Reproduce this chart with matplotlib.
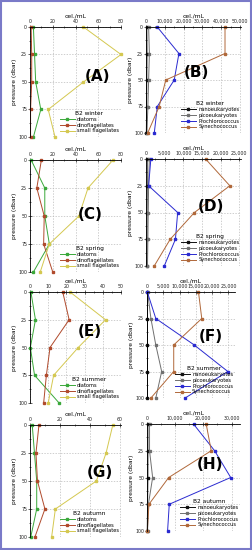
import matplotlib
matplotlib.use("Agg")
import matplotlib.pyplot as plt
from matplotlib.ticker import AutoMinorLocator, FuncFormatter
from matplotlib.patches import Rectangle

depth = [0, 25, 50, 75, 100]

# Left panels (microplankton, cel./mL)
A_diatoms = [3, 4, 5, 9.5, 3]
A_dino = [1, 1.5, 1.5, 0.5, 0.5]
A_small = [47, 80, 47, 16, 22]

C_diatoms = [1, 13, 13, 17, 3]
C_dino = [10, 6, 12.5, 12, 20]
C_small = [73, 51, 43, 17, 9]

E_diatoms = [0.5, 3, 0.2, 2.5, 16]
E_dino = [18, 21.5, 11, 9, 7.5]
E_small = [22, 41.5, 26.5, 13, 10]

G_diatoms = [1.5, 3, 4.5, 4.5, 0.5]
G_dino = [6, 4, 5, 10, 3.3]
G_small = [55.5, 51, 44.5, 17, 14.5]

# Right panels (picoplankton, cel./mL)
B_nano = [400, 500, 400, 300, 200]
B_pico = [1400, 1800, 1400, 1000, 500]
B_pro = [6000, 17500, 15000, 6000, 4400]
B_syn = [42000, 42000, 10500, 7000, 900]

D_nano = [300, 300, 250, 250, 200]
D_pico = [900, 700, 600, 500, 400]
D_pro = [1300, 700, 8500, 7900, 4900]
D_syn = [16000, 22500, 13000, 6500, 2200]

F_nano = [150, 150, 150, 150, 150]
F_pico = [200, 1200, 2700, 4500, 2700]
F_pro = [100, 2700, 14500, 24800, 11700]
F_syn = [15800, 16800, 8200, 8200, 1200]

H_nano = [300, 300, 300, 200, 100]
H_pico = [900, 900, 2000, 500, 200]
H_pro = [16500, 24000, 29700, 7900, 7300]
H_syn = [21000, 22800, 7700, 700, 100]

left_names = ["diatoms", "dinoflagellates", "small flagellates"]
right_names = ["nanoeukaryotes", "picoeukaryotes", "Prochlorococcus", "Synechococcus"]
left_colors = ["#3aa83a", "#b04a2c", "#d4c850"]
right_colors = ["#111111", "#707070", "#2a2ad0", "#b0683a"]
seasons = ["B2 winter", "B2 spring", "B2 summer", "B2 autumn"]

fig = plt.figure(figsize=(2.52, 5.5), dpi=100)

left_pos = [
    [30/252, 1-137/550, 91/252, 110/550],
    [30/252, 1-272/550, 91/252, 112/550],
    [30/252, 1-403/550, 91/252, 111/550],
    [30/252, 1-537/550, 91/252, 112/550],
]
right_pos = [
    [146/252, 1-133/550, 95/252, 106/550],
    [146/252, 1-266/550, 95/252, 107/550],
    [147/252, 1-398/550, 88/252, 106/550],
    [147/252, 1-531/550, 93/252, 107/550],
]

left_data = [(A_diatoms, A_dino, A_small), (C_diatoms, C_dino, C_small),
             (E_diatoms, E_dino, E_small), (G_diatoms, G_dino, G_small)]
right_data = [(B_nano, B_pico, B_pro, B_syn), (D_nano, D_pico, D_pro, D_syn),
              (F_nano, F_pico, F_pro, F_syn), (H_nano, H_pico, H_pro, H_syn)]

left_xlim = [(0, 80), (0, 80), (0, 50), (0, 61)]
left_ticks = [[0, 20, 40, 60, 80], [0, 20, 40, 60, 80], [0, 10, 20, 30, 40, 50], [0, 20, 40, 60]]
right_xlim = [(0, 50500), (0, 25500), (0, 27000), (0, 33000)]
right_ticks = [[0, 10000, 20000, 30000, 40000, 50000], [0, 5000, 10000, 15000, 20000, 25000],
               [0, 5000, 10000, 15000, 20000, 25000], [0, 10000, 20000, 30000]]

left_letters = ["(A)", "(C)", "(E)", "(G)"]
right_letters = ["(B)", "(D)", "(F)", "(H)"]
left_letter_xy = [(0.74, 0.55), (0.66, 0.51), (0.66, 0.64), (0.77, 0.58)]
right_letter_xy = [(0.53, 0.57), (0.68, 0.56), (0.73, 0.58), (0.68, 0.62)]

fmt = FuncFormatter(lambda v, p: f"{int(v):,}")


def style(ax, xlim, ticks):
    ax.set_xlim(*xlim)
    ax.set_ylim(100, 0)
    ax.set_xticks(ticks)
    ax.set_yticks(depth)
    ax.xaxis.set_minor_locator(AutoMinorLocator(2))
    ax.yaxis.set_minor_locator(AutoMinorLocator(2))
    ax.xaxis.tick_top()
    ax.xaxis.set_label_position("top")
    for s in ["right", "bottom"]:
        ax.spines[s].set_visible(False)
    ax.spines["top"].set_linewidth(0.6)
    ax.spines["left"].set_linewidth(0.6)
    ax.tick_params(axis="both", which="major", labelsize=3.4, length=2.5, width=0.5,
                   direction="inout", pad=0.8, colors="#222222")
    ax.tick_params(axis="both", which="minor", length=1.5, width=0.4, direction="inout")
    ax.grid(True, which="major", linestyle=(0, (2, 2)), color="#bbbbbb", linewidth=0.5)
    ax.set_xlabel("cel./mL", fontsize=4.3, labelpad=1.2)
    ax.set_ylabel("pressure (dbar)", fontsize=4.3, labelpad=1)
    ax.set_facecolor("white")


for i in range(4):
    ax = fig.add_axes(left_pos[i])
    for vals, name, c in zip(left_data[i], left_names, left_colors):
        ax.plot(vals, depth, color=c, marker="s", markersize=1.8, linewidth=0.7,
                label=name, clip_on=False)
    style(ax, left_xlim[i], left_ticks[i])
    ax.xaxis.set_major_formatter(FuncFormatter(lambda v, p: f"{int(v)}"))
    ax.text(*left_letter_xy[i], left_letters[i], transform=ax.transAxes, fontsize=11,
            fontweight="bold", ha="center", va="center")
    ax.legend(title=seasons[i], loc="lower right", fontsize=3.7, title_fontsize=4.2,
              frameon=False, handlelength=3, borderpad=0.2, labelspacing=0.15,
              handletextpad=0.4, bbox_to_anchor=(1.02, 0.0))

for i in range(4):
    ax = fig.add_axes(right_pos[i])
    for vals, name, c in zip(right_data[i], right_names, right_colors):
        ax.plot(vals, depth, color=c, marker="s", markersize=1.8, linewidth=0.7,
                label=name, clip_on=False)
    style(ax, right_xlim[i], right_ticks[i])
    ax.xaxis.set_major_formatter(fmt)
    ax.text(*right_letter_xy[i], right_letters[i], transform=ax.transAxes, fontsize=11,
            fontweight="bold", ha="center", va="center")
    ax.legend(title=seasons[i], loc="lower right", fontsize=3.7, title_fontsize=4.2,
              frameon=False, handlelength=3, borderpad=0.2, labelspacing=0.15,
              handletextpad=0.4, bbox_to_anchor=(1.02, 0.0))

fig.patches.append(Rectangle((0.004, 0.002), 0.992, 0.996, transform=fig.transFigure,
                             fill=False, edgecolor="#7a7ac8", linewidth=1.5))

fig.savefig("out.png", dpi=100)
